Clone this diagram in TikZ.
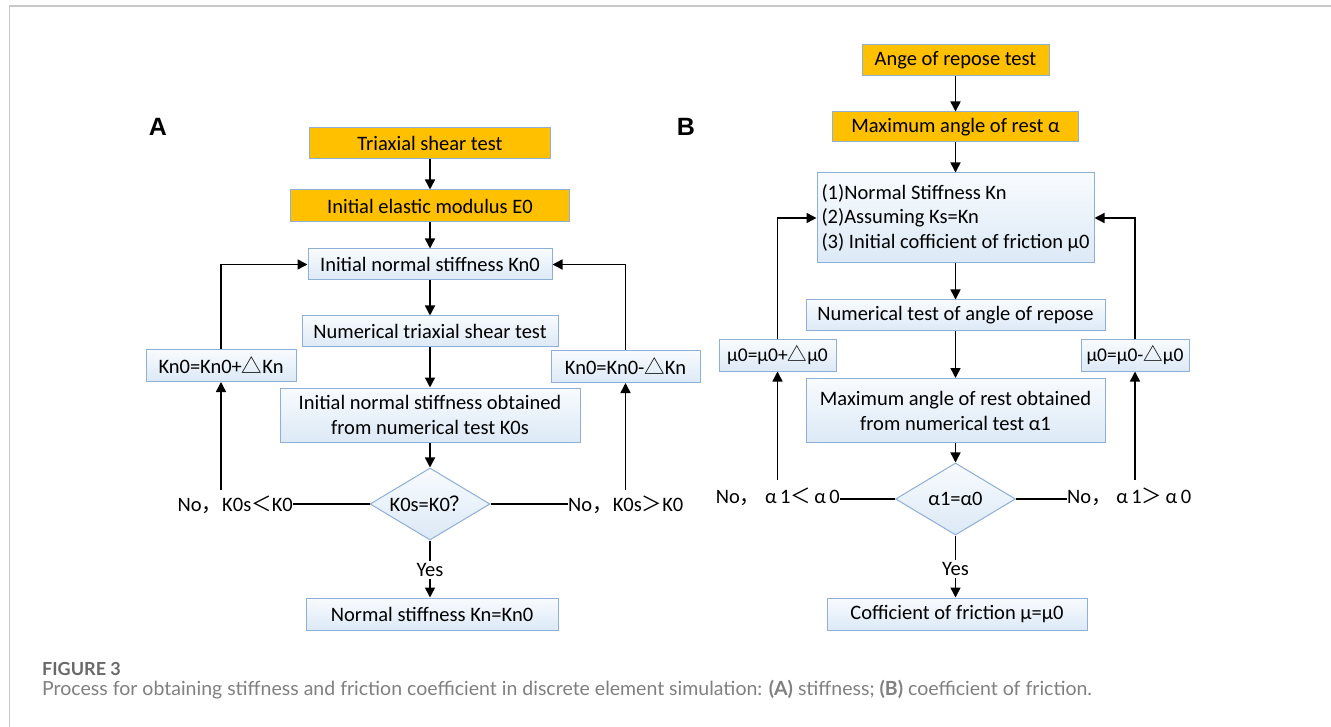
\documentclass[tikz,border=0pt]{standalone}
\usepackage{fontspec}
\setmainfont{Carlito}
\newfontfamily\cjk{Noto Sans CJK SC}
\newfontfamily\arialf{Liberation Sans}
\newfontfamily\capf{Lato}
\usetikzlibrary{shapes.geometric,arrows.meta}
\definecolor{orangeF}{RGB}{255,192,0}
\definecolor{boxB}{RGB}{141,175,216}
\definecolor{boxT}{RGB}{248,251,254}
\definecolor{boxBot}{RGB}{220,233,246}
\definecolor{capgray}{RGB}{105,105,105}
\definecolor{framegray}{RGB}{200,200,200}
\newcommand{\tri}{{\cjk △}}
\newcommand{\fwc}{{\cjk ，}}
\newcommand{\fwl}{{\cjk ＜}}
\newcommand{\fwg}{{\cjk ＞}}
\newcommand{\fwq}{{\cjk ？}}
\tikzset{
  base/.style={draw=boxB, line width=1pt, inner sep=0pt, align=center,
    font=\fontsize{20.5}{25}\selectfont},
  obox/.style={base, fill=orangeF},
  bbox/.style={base, top color=boxT, bottom color=boxBot},
  smallbox/.style={bbox, font=\fontsize{19.5}{25}\selectfont},
  dia/.style={diamond, draw=boxB, line width=1pt, top color=boxT, bottom color=boxBot,
    inner sep=0pt, aspect=1.667, minimum width=120pt, minimum height=72pt,
    font=\fontsize{20.5}{25}\selectfont},
  arr/.style={line width=1.5pt, -{Triangle[length=10pt,width=10pt]}},
  ln/.style={line width=1.5pt},
  lab/.style={font=\fontsize{20.5}{25}\selectfont, inner sep=0pt},
  yeslab/.style={font=\fontsize{20.5}{25}\selectfont, inner sep=2.5pt},
  panel/.style={font=\arialf\bfseries\fontsize{25}{25}\selectfont, inner sep=0pt},
}
\begin{document}
\begin{tikzpicture}[x=1pt,y=-1pt]
\useasboundingbox (0,0) rectangle (1331,727);
\fill[white] (0,0) rectangle (1331,727);
\draw[framegray, line width=1.5pt] (9.5,727) -- (9.5,6) -- (1331,6);

% ---------- Panel A ----------
\node[panel] (A) at (158,127) {A};
\node[obox, minimum width=241pt, minimum height=31pt] (t1) at (430,143.5) {Triaxial shear test};
\node[obox, minimum width=279pt, minimum height=32pt] (t2) at (430,206) {Initial elastic modulus E0};
\node[bbox, minimum width=244pt, minimum height=31pt] (t3) at (430,264.5) {Initial normal stiffness Kn0};
\node[bbox, minimum width=256pt, minimum height=31pt] (t4) at (430,331.5) {Numerical triaxial shear test};
\node[bbox, minimum width=300pt, minimum height=54pt] (t5) at (430,415) {Initial normal stiffness obtained\\from numerical test K0s};
\node[dia] (d1) at (430,504) {K0s=K0\fwq};
\node[yeslab] (yes1) at (430,570) {Yes};
\node[bbox, minimum width=252pt, minimum height=32pt] (t6) at (432,614) {Normal stiffness Kn=Kn0};
\node[bbox, minimum width=150pt, minimum height=32pt] (kp) at (221,365.5) {Kn0=Kn0+\tri Kn};
\node[bbox, minimum width=149pt, minimum height=32pt] (km) at (625.5,366.5) {Kn0=Kn0-\tri Kn};
\node[lab, anchor=east] (lt1) at (293,505) {No\fwc K0s\fwl K0};
\node[lab, anchor=west] (rt1) at (568,505) {No\fwc K0s\fwg K0};
\coordinate (lb1) at (221,490);
\coordinate (rb1) at (625.5,490);

\draw[arr] (t1) -- (t2);
\draw[arr] (t2) -- (t3);
\draw[arr] (t3) -- (t4);
\draw[arr] (t4) -- (t5);
\draw[arr] (t5) -- (d1);
\draw[ln] (d1.south) -- (yes1.north);
\draw[arr] (yes1.south) -- (t6.north -| yes1);
\draw[ln] (d1.west) -- (d1.west -| lt1.east);
\draw[ln] (d1.east) -- (d1.east -| rt1.west);
\draw[arr] (lb1) -- (kp.south);
\draw[arr] (kp.north) |- (t3.west);
\draw[arr] (rb1) -- (km.south);
\draw[arr] (km.north) |- (t3.east);

% ---------- Panel B ----------
\node[panel] (B) at (686,127) {B};
\node[obox, minimum width=187pt, minimum height=31pt] (b1) at (955.5,60.5) {Ange of repose test};
\node[obox, minimum width=246pt, minimum height=30pt] (b2) at (955.5,127) {Maximum angle of rest α};
\node[bbox, minimum width=277pt, minimum height=90pt, align=left, font=\fontsize{20.5}{24.5}\selectfont] (b3) at (955.5,218)
  {(1)Normal Stiffness Kn\\(2)Assuming Ks=Kn\\(3) Initial cofficient of friction μ0};
\node[bbox, minimum width=299pt, minimum height=31pt] (b4) at (955.5,315.5) {Numerical test of angle of repose};
\node[bbox, minimum width=299pt, minimum height=64pt] (b5) at (955.5,410.5) {Maximum angle of rest obtained\\from numerical test α1};
\node[dia] (d2) at (955.5,499) {α1=α0};
\node[yeslab] (yes2) at (955.5,569) {Yes};
\node[bbox, minimum width=260pt, minimum height=32pt] (b6) at (957,614) {Cofficient of friction μ=μ0};
\node[smallbox, minimum width=117pt, minimum height=31pt] (mp) at (777.5,355.5) {μ0=μ0+\tri μ0};
\node[smallbox, minimum width=108pt, minimum height=31pt] (mm) at (1135,355.5) {μ0=μ0-\tri μ0};
\node[lab, anchor=east] (lt2) at (840,497) {No\fwc\ α\,1\fwl\,α\,0};
\node[lab, anchor=west] (rt2) at (1067,497) {No\fwc\ α\,1\fwg\,α\,0};
\coordinate (lb2) at (777.5,480);
\coordinate (rb2) at (1135,480);

\draw[arr] (b1) -- (b2);
\draw[arr] (b2) -- (b3);
\draw[arr] (b3) -- (b4);
\draw[arr] (b4) -- (b5);
\draw[arr] (b5) -- (d2);
\draw[ln] (d2.south) -- (yes2.north);
\draw[arr] (yes2.south) -- (b6.north -| yes2);
\draw[ln] (d2.west) -- (d2.west -| lt2.east);
\draw[ln] (d2.east) -- (d2.east -| rt2.west);
\draw[arr] (lb2) -- (mp.south);
\draw[arr] (mp.north) |- (b3.west);
\draw[arr] (rb2) -- (mm.south);
\draw[arr] (mm.north) |- (b3.east);

% ---------- Caption ----------
\node[anchor=base west, inner sep=0pt, text=capgray, font=\capf\bfseries\fontsize{18}{18}\selectfont] (fig) at (42,675) {FIGURE 3};
\node[anchor=base west, inner sep=0pt, text=capgray!85, font=\capf\fontsize{19.5}{19}\selectfont] (cap) at (42,695)
  {Process for obtaining stiffness and friction coefficient in discrete element simulation: \textbf{(A)} stiffness; \textbf{(B)} coefficient of friction.};
\end{tikzpicture}
\end{document}
